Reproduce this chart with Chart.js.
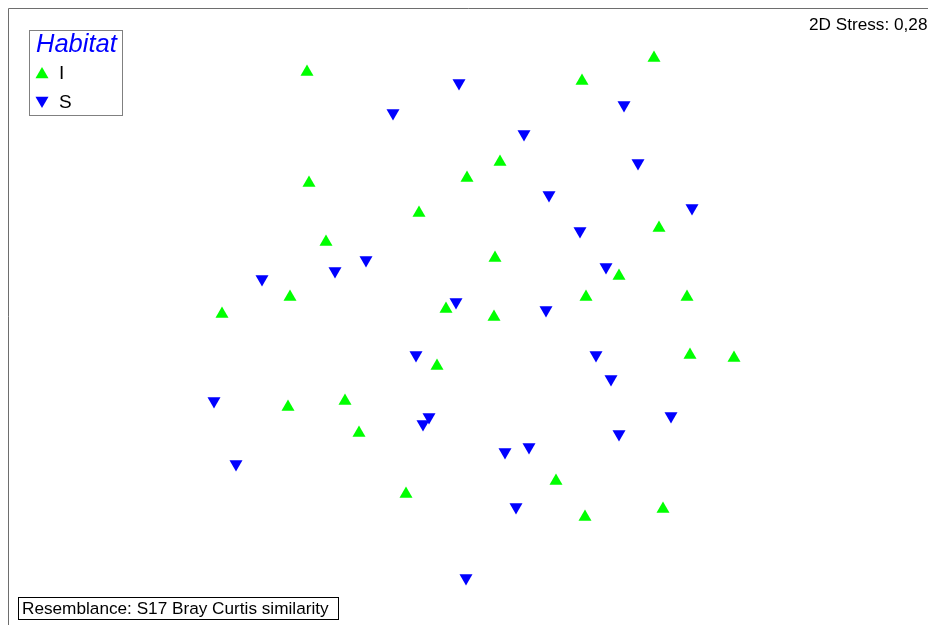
<!DOCTYPE html>
<html>
<head>
<meta charset="utf-8">
<script src="https://cdn.jsdelivr.net/npm/chart.js@4"></script>
<style>
  body { margin: 0; background: #fff; }
  #wrap { position: relative; width: 928px; height: 625px; }
</style>
</head>
<body>
<div id="wrap"><canvas id="mds"></canvas></div>
<script>
// nMDS ordination coordinates (arbitrary units)
const habitatI_x = [307, 654, 582, 500, 467, 309, 419, 659, 326, 495, 619, 290, 586, 687, 222, 446, 494, 690, 734, 437, 288, 345, 359, 556, 406, 585, 663];
const habitatI_y = [72, 58, 81, 162, 178, 183, 213, 228, 242, 258, 276, 297, 297, 297, 314, 309, 317, 355, 358, 366, 407, 401, 433, 481, 494, 517, 509];
const habitatS_x = [459, 624, 393, 524, 638, 549, 692, 580, 366, 335, 262, 606, 456, 546, 416, 596, 611, 214, 429, 423, 671, 619, 529, 505, 236, 516, 466];
const habitatS_y = [83, 105, 113, 134, 163, 195, 208, 231, 260, 271, 279, 267, 302, 310, 355, 355, 379, 401, 417, 424, 416, 434, 447, 452, 464, 507, 578];
const groups = ['I', 'S'];
const legendTitle = 'Habitat';
const stressText = '2D Stress: 0,28';
const resemblanceText = 'Resemblance: S17 Bray Curtis similarity';

const toPoints = (xs, ys) => xs.map((x, i) => ({ x, y: ys[i] }));
const markerRadius = 7.5;

// Frame, legend and annotation boxes
const decorations = {
  id: 'decorations',
  afterDraw(chart) {
    const ctx = chart.ctx;
    ctx.save();
    // plot frame (extends beyond the window at right and bottom)
    ctx.strokeStyle = '#6e6e6e';
    ctx.lineWidth = 1;
    ctx.beginPath();
    ctx.moveTo(8.5, 625);
    ctx.lineTo(8.5, 8.5);
    ctx.lineTo(928, 8.5);
    ctx.stroke();

    // legend
    ctx.strokeStyle = '#808080';
    ctx.strokeRect(29.5, 30.5, 93, 85);
    ctx.fillStyle = '#0000ff';
    ctx.font = 'italic 25.5px "Liberation Sans", Arial, sans-serif';
    ctx.textBaseline = 'middle';
    ctx.fillText(legendTitle, 36, 45);
    ctx.font = '19px "Liberation Sans", Arial, sans-serif';
    chart.data.datasets.forEach((ds, i) => {
      const cy = 73 + i * 29;
      const r = markerRadius;
      const dir = ds.pointRotation === 180 ? -1 : 1;
      ctx.fillStyle = ds.backgroundColor;
      ctx.beginPath();
      ctx.moveTo(42, cy - dir * r * 0.8);
      ctx.lineTo(42 - r * 0.87, cy + dir * r * 0.7);
      ctx.lineTo(42 + r * 0.87, cy + dir * r * 0.7);
      ctx.closePath();
      ctx.fill();
      ctx.fillStyle = '#000';
      ctx.fillText(ds.label, 59, cy + 1);
    });

    // stress value
    ctx.font = '17.2px "Liberation Sans", Arial, sans-serif';
    ctx.fillStyle = '#000';
    ctx.textAlign = 'left';
    ctx.fillText(stressText, 809, 25);

    // resemblance box
    ctx.strokeStyle = '#000';
    ctx.fillStyle = '#fff';
    ctx.fillRect(18.5, 597.5, 320, 22);
    ctx.strokeRect(18.5, 597.5, 320, 22);
    ctx.fillStyle = '#000';
    ctx.fillText(resemblanceText, 22, 609);
    ctx.restore();
  }
};

new Chart(document.getElementById('mds').getContext('2d'), {
  type: 'scatter',
  data: {
    datasets: [
      {
        label: groups[0],
        data: toPoints(habitatI_x, habitatI_y),
        pointStyle: 'triangle',
        pointRotation: 0,
        backgroundColor: '#00ff00',
        borderColor: '#00ff00',
        borderWidth: 0,
        pointRadius: markerRadius
      },
      {
        label: groups[1],
        data: toPoints(habitatS_x, habitatS_y),
        pointStyle: 'triangle',
        pointRotation: 180,
        backgroundColor: '#0000ff',
        borderColor: '#0000ff',
        borderWidth: 0,
        pointRadius: markerRadius
      }
    ]
  },
  options: {
    responsive: true,
    maintainAspectRatio: false,
    animation: false,
    layout: { padding: 0, autoPadding: false },
    plugins: {
      legend: { display: false },
      tooltip: { enabled: false },
      title: { display: false }
    },
    scales: {
      x: { type: 'linear', min: 0, max: 928, display: false },
      y: { type: 'linear', min: 0, max: 625, reverse: true, display: false }
    }
  },
  plugins: [decorations]
});
</script>
</body>
</html>
